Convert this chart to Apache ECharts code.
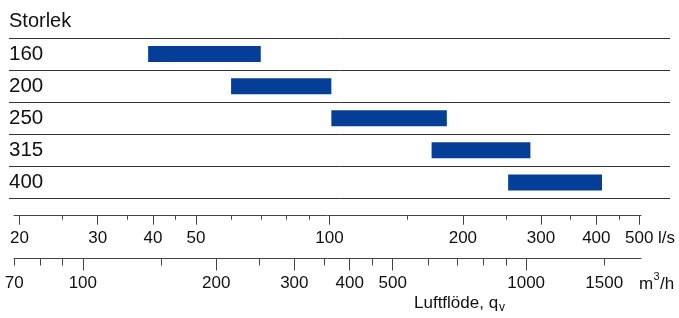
<!DOCTYPE html>
<html>
<head>
<meta charset="utf-8">
<script src="https://cdn.jsdelivr.net/npm/echarts@6/dist/echarts.min.js"></script>
<style>
  html, body { margin: 0; padding: 0; background: #fff; }
  #chart { width: 679px; height: 318px; }
</style>
</head>
<body>
<div id="chart"></div>
<script>
// storlek (rader) och luftflöde l/s per storlek
var sizes = ['160', '200', '250', '315', '400'];
var flowMin = [39, 60, 101, 170, 253];
var flowMax = [70, 101, 184, 284, 412];

// skalor
var lsMajor = [20, 30, 40, 50, 100, 200, 300, 400, 500];
var lsMinor = [25, 35, 45, 60, 70, 80, 90, 150, 250, 350, 450];
var m3Labels = [70, 100, 200, 300, 400, 500, 1000, 1500];
var m3Long = [100, 200, 300, 400, 500, 1000];
var m3Short = [70, 80, 90, 150, 250, 350, 450, 600, 700, 800, 900, 1500];

var FONT = '"Liberation Sans", Arial, sans-serif';
var TXT = '#111';
var LINE = '#444';
var m3Min = 69.95, m3Max = 1816;      // m3/h
var lsMin = m3Min / 3.6, lsMax = m3Max / 3.6; // l/s

var rows = sizes.map(function (s, i) { return [i, flowMin[i], flowMax[i]]; });
var plain = function (v) { return String(Math.round(v)); };

var myChart = echarts.init(document.getElementById('chart'));
var option = {
  animation: false,
  textStyle: { fontFamily: FONT },
  title: {
    text: 'Storlek',
    left: 9,
    top: 11,
    padding: 0,
    textStyle: { fontSize: 20, fontWeight: 'normal', color: TXT, fontFamily: FONT }
  },
  grid: [
    { left: 14, right: 38, top: 38, height: 160.5 },
    { left: 9, right: 9, top: 38, height: 160.5 }
  ],
  xAxis: [
    {
      gridIndex: 0, type: 'log', min: lsMin, max: lsMax,
      position: 'bottom', offset: 17.2,
      axisLine: { show: true, lineStyle: { color: LINE, width: 1 } },
      axisTick: { show: true, customValues: lsMajor, length: 9, lineStyle: { color: LINE } },
      axisLabel: { customValues: lsMajor, formatter: plain, margin: 14, fontSize: 17, color: TXT, fontFamily: FONT },
      splitLine: { show: false }
    },
    {
      gridIndex: 0, type: 'log', min: lsMin, max: lsMax,
      position: 'bottom', offset: 17.2,
      axisLine: { show: false },
      axisTick: { show: true, customValues: lsMinor, length: 4, lineStyle: { color: LINE } },
      axisLabel: { show: false },
      splitLine: { show: false }
    },
    {
      gridIndex: 0, type: 'log', min: m3Min, max: m3Max,
      position: 'bottom', offset: 60,
      axisLine: { show: true, lineStyle: { color: LINE, width: 1 } },
      axisTick: { show: true, customValues: m3Long, length: 12, lineStyle: { color: LINE } },
      axisLabel: { customValues: m3Labels, formatter: plain, margin: 16, fontSize: 17, color: TXT, fontFamily: FONT },
      splitLine: { show: false }
    },
    {
      gridIndex: 0, type: 'log', min: m3Min, max: m3Max,
      position: 'bottom', offset: 60,
      axisLine: { show: false },
      axisTick: { show: true, customValues: m3Short, length: 7, lineStyle: { color: LINE } },
      axisLabel: { show: false },
      splitLine: { show: false }
    },
    { gridIndex: 1, type: 'value', show: false }
  ],
  yAxis: [
    { gridIndex: 0, type: 'category', data: sizes, inverse: true, show: false },
    {
      gridIndex: 1, type: 'category', data: sizes, inverse: true,
      axisLine: { show: false },
      axisTick: { show: false },
      axisLabel: { align: 'left', margin: 0, fontSize: 20.5, color: TXT, fontFamily: FONT },
      splitLine: { show: true, lineStyle: { color: '#333', width: 1 } }
    }
  ],
  graphic: [
    { type: 'text', x: 658, y: 238, style: { text: 'l/s', fill: TXT, font: '17px ' + FONT, verticalAlign: 'middle' } },
    { type: 'text', x: 639, y: 284, style: { text: 'm', fill: TXT, font: '17px ' + FONT, verticalAlign: 'middle' } },
    { type: 'text', x: 653.5, y: 277, style: { text: '3', fill: TXT, font: '11px ' + FONT, verticalAlign: 'middle' } },
    { type: 'text', x: 660, y: 284, style: { text: '/h', fill: TXT, font: '17px ' + FONT, verticalAlign: 'middle' } },
    { type: 'text', x: 414, y: 303, style: { text: 'Luftflöde, q', fill: TXT, font: '17px ' + FONT, verticalAlign: 'middle' } },
    { type: 'text', x: 499, y: 308, style: { text: 'v', fill: TXT, font: '12px ' + FONT, verticalAlign: 'middle' } }
  ],
  series: [{
    type: 'custom',
    xAxisIndex: 0,
    yAxisIndex: 0,
    encode: { x: [1, 2], y: 0 },
    data: rows,
    renderItem: function (params, api) {
      var a = api.coord([api.value(1), api.value(0)]);
      var b = api.coord([api.value(2), api.value(0)]);
      var h = 16;
      return {
        type: 'rect',
        shape: { x: a[0], y: a[1] - h / 2, width: b[0] - a[0], height: h },
        style: { fill: '#043e96' }
      };
    }
  }]
};
myChart.setOption(option);
</script>
</body>
</html>
